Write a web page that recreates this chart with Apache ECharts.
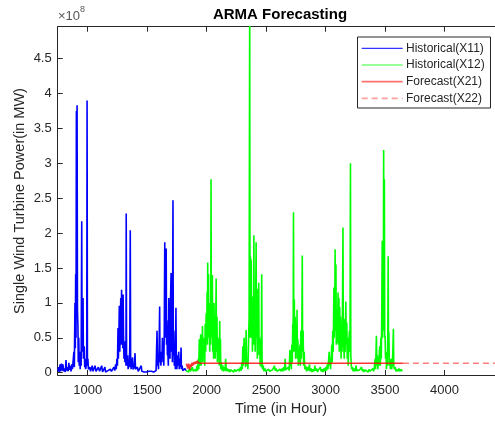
<!DOCTYPE html>
<html>
<head>
<meta charset="utf-8">
<script src="https://cdn.jsdelivr.net/npm/echarts@6/dist/echarts.min.js"></script>
<style>html,body{margin:0;padding:0;overflow:hidden;background:#fff}#c{width:495px;height:422px}</style>
</head>
<body>
<div id="c"></div>
<script>
// Values in units of 1e8 MW, time in hours
const x11 = [[750,0.02],[755,0.08],[760,0.01],[768,0.12],[772,0.02],[780,0.13],[785,0.03],[792,0.12],[798,0.02],[805,0.06],[812,0.01],[818,0.18],[822,0.03],[830,0.08],[836,0.02],[842,0.14],[848,0.04],[855,0.10],[860,0.02],[866,0.12],[872,0.05],[878,0.03],[884,0.30],[888,0.08],[893,1.00],[896,0.35],[899,1.41],[902,0.5],[905,3.75],[908,3.2],[911,3.83],[914,0.9],[918,0.67],[921,0.15],[925,0.5],[929,0.1],[933,0.3],[937,0.05],[941,0.25],[945,0.1],[950,2.17],[953,0.3],[957,0.9],[961,1.07],[964,0.2],[968,0.38],[972,0.35],[975,0.08],[979,0.2],[983,0.05],[988,0.03],[992,0.15],[995,3.90],[998,0.1],[1002,0.2],[1006,0.05],[1012,0.03],[1018,0.08],[1024,0.02],[1030,0.03],[1038,0.1],[1045,0.02],[1055,0.04],[1062,0.1],[1070,0.02],[1080,0.03],[1090,0.08],[1100,0.02],[1110,0.03],[1118,0.1],[1125,0.01],[1135,0.02],[1145,0.08],[1150,0.01],[1160,0.01],[1170,0.03],[1180,0.02],[1190,0.05],[1200,0.02],[1210,0.04],[1220,0.08],[1228,0.03],[1235,0.12],[1240,0.05],[1246,0.2],[1250,0.1],[1255,0.64],[1258,0.2],[1262,0.5],[1266,0.96],[1270,0.3],[1274,0.6],[1278,1.07],[1281,0.4],[1285,1.19],[1288,0.55],[1292,0.7],[1295,0.35],[1298,1.12],[1301,0.55],[1305,0.2],[1309,0.45],[1313,0.15],[1318,0.3],[1322,0.1],[1324,2.28],[1327,0.2],[1332,0.1],[1336,0.25],[1340,0.05],[1345,0.15],[1350,0.08],[1354,0.4],[1358,2.04],[1361,0.2],[1365,0.05],[1369,0.2],[1373,0.1],[1377,0.22],[1381,0.05],[1386,0.03],[1392,0.08],[1398,0.28],[1402,0.05],[1410,0.03],[1418,0.08],[1425,0.02],[1432,0.04],[1440,0.02],[1450,0.1],[1455,0.02],[1465,0.01],[1475,0.01],[1485,0.02],[1495,0.01],[1505,0.01],[1515,0.02],[1525,0.01],[1535,0.02],[1545,0.01],[1555,0.01],[1565,0.02],[1575,0.03],[1580,0.05],[1583,0.60],[1587,0.1],[1591,0.2],[1595,0.05],[1600,0.3],[1605,0.95],[1608,0.15],[1612,0.2],[1616,0.1],[1620,0.3],[1624,0.15],[1628,0.5],[1632,0.2],[1636,0.35],[1640,0.1],[1644,0.6],[1648,1.87],[1651,0.5],[1655,1.2],[1660,1.78],[1663,0.4],[1666,0.75],[1670,0.25],[1674,0.3],[1678,0.1],[1682,1.07],[1685,0.3],[1688,0.9],[1692,0.2],[1696,1.0],[1701,1.43],[1704,0.3],[1708,0.6],[1712,0.15],[1717,2.47],[1720,0.25],[1724,0.6],[1728,0.1],[1733,0.3],[1737,0.05],[1742,0.93],[1745,0.2],[1750,0.05],[1755,0.25],[1760,0.1],[1765,0.3],[1770,0.05],[1775,0.2],[1780,0.08],[1785,0.36],[1788,0.05],[1794,0.1],[1800,0.03],[1806,0.05],[1812,0.02],[1818,0.06],[1826,0.03]];

const x12 = [[1826,0.03],[1832,0.01],[1840,0.04],[1848,0.01],[1856,0.06],[1864,0.02],[1872,0.01],[1880,0.08],[1888,0.02],[1896,0.01],[1904,0.05],[1912,0.02],[1920,0.10],[1925,0.03],[1930,0.2],[1934,0.05],[1938,0.48],[1941,0.1],[1945,0.3],[1950,0.55],[1953,0.1],[1957,0.4],[1961,0.2],[1965,0.67],[1968,0.15],[1972,0.45],[1976,0.25],[1980,0.5],[1984,0.1],[1988,0.7],[1992,0.3],[1996,0.85],[2000,0.5],[2004,1.16],[2007,0.4],[2009,1.58],[2012,0.6],[2016,1.41],[2019,0.5],[2022,0.9],[2026,0.3],[2030,1.0],[2034,0.4],[2037,2.77],[2040,0.5],[2044,0.9],[2048,1.40],[2051,0.3],[2055,0.75],[2058,0.2],[2062,1.0],[2065,0.4],[2069,0.8],[2072,0.2],[2076,0.6],[2080,1.35],[2083,0.3],[2087,0.8],[2090,0.15],[2094,0.5],[2098,0.2],[2102,0.35],[2106,0.1],[2110,0.74],[2113,0.2],[2116,0.48],[2119,0.05],[2124,0.15],[2130,0.03],[2136,0.1],[2142,0.02],[2148,0.08],[2155,0.03],[2160,0.2],[2165,0.02],[2172,0.06],[2180,0.02],[2188,0.05],[2196,0.01],[2204,0.04],[2212,0.02],[2220,0.06],[2228,0.01],[2236,0.05],[2244,0.02],[2252,0.04],[2260,0.01],[2268,0.05],[2276,0.02],[2284,0.08],[2290,0.03],[2296,0.15],[2300,0.05],[2304,0.38],[2307,0.1],[2311,0.3],[2315,0.5],[2318,0.15],[2322,0.35],[2326,0.08],[2332,0.61],[2335,0.2],[2339,0.1],[2343,0.2],[2347,0.05],[2352,0.4],[2357,0.8],[2362,5.2],[2365,0.5],[2368,1.67],[2371,0.6],[2375,1.62],[2378,0.5],[2382,1.09],[2385,0.3],[2390,0.9],[2394,0.4],[2397,1.97],[2400,0.6],[2404,0.78],[2408,0.3],[2412,1.0],[2416,1.87],[2419,0.5],[2423,0.6],[2426,0.2],[2430,1.2],[2434,0.4],[2438,1.29],[2441,0.25],[2446,0.5],[2450,0.1],[2455,0.3],[2459,0.08],[2463,1.41],[2466,0.2],[2470,0.05],[2476,0.1],[2482,0.02],[2490,0.06],[2498,0.02],[2506,0.04],[2514,0.01],[2522,0.05],[2530,0.02],[2538,0.03],[2546,0.01],[2554,0.04],[2562,0.02],[2570,0.10],[2576,0.03],[2584,0.06],[2592,0.02],[2600,0.04],[2608,0.01],[2616,0.05],[2624,0.02],[2632,0.06],[2640,0.02],[2648,0.08],[2654,0.03],[2660,0.2],[2665,0.04],[2672,0.06],[2680,0.02],[2688,0.08],[2694,0.03],[2700,0.33],[2704,0.1],[2708,0.25],[2712,0.05],[2716,0.4],[2720,0.15],[2724,0.7],[2727,0.3],[2730,2.30],[2733,0.4],[2737,1.05],[2740,0.3],[2744,0.8],[2748,0.2],[2752,0.62],[2756,0.3],[2760,0.9],[2763,0.2],[2767,0.48],[2771,0.1],[2775,0.33],[2779,0.15],[2784,0.4],[2788,0.1],[2792,0.6],[2796,0.2],[2800,0.5],[2804,1.68],[2807,0.3],[2811,0.6],[2815,0.1],[2820,0.3],[2825,0.05],[2832,0.1],[2840,0.02],[2848,0.08],[2856,0.03],[2864,0.12],[2870,0.02],[2878,0.06],[2886,0.01],[2894,0.05],[2902,0.02],[2910,0.1],[2916,0.03],[2924,0.06],[2932,0.01],[2940,0.04],[2948,0.02],[2956,0.08],[2962,0.02],[2970,0.05],[2978,0.01],[2986,0.06],[2994,0.02],[3002,0.08],[3008,0.03],[3014,0.12],[3020,0.05],[3026,0.2],[3030,0.3],[3034,0.1],[3038,0.2],[3042,0.05],[3048,0.25],[3052,0.4],[3056,0.15],[3060,0.6],[3064,0.3],[3070,1.22],[3073,0.5],[3077,0.8],[3080,1.77],[3083,0.6],[3087,1.55],[3090,0.4],[3094,0.9],[3097,0.43],[3101,0.7],[3105,1.15],[3108,0.4],[3112,1.07],[3115,0.3],[3119,0.94],[3122,0.5],[3126,0.8],[3130,0.2],[3134,0.6],[3138,0.3],[3142,0.9],[3146,2.08],[3149,0.5],[3153,0.48],[3157,0.2],[3161,0.77],[3165,0.3],[3170,1.02],[3174,0.4],[3178,0.72],[3182,0.2],[3186,0.5],[3190,0.1],[3195,0.4],[3200,0.6],[3205,0.3],[3209,3.0],[3212,0.25],[3216,0.1],[3220,0.05],[3226,0.08],[3232,0.02],[3240,0.06],[3248,0.02],[3256,0.1],[3262,0.03],[3270,0.05],[3278,0.01],[3286,0.04],[3294,0.02],[3302,0.08],[3310,0.02],[3318,0.05],[3326,0.01],[3334,0.04],[3342,0.02],[3350,0.06],[3358,0.01],[3366,0.05],[3374,0.02],[3382,0.04],[3390,0.01],[3398,0.06],[3404,0.02],[3410,0.08],[3416,0.2],[3420,0.05],[3424,0.3],[3427,0.53],[3431,0.1],[3435,0.25],[3439,0.05],[3443,0.2],[3447,0.1],[3452,0.3],[3456,0.38],[3460,0.1],[3464,0.5],[3468,0.2],[3472,0.8],[3476,1.89],[3479,0.5],[3482,1.2],[3485,0.6],[3488,3.19],[3491,1.0],[3494,2.77],[3497,0.5],[3500,0.53],[3504,0.2],[3508,0.25],[3512,0.05],[3516,0.3],[3520,0.1],[3523,0.6],[3526,1.67],[3529,0.3],[3532,0.58],[3536,0.1],[3540,0.2],[3545,0.05],[3550,0.2],[3555,0.05],[3560,0.1],[3565,0.3],[3570,0.63],[3573,0.1],[3578,0.05],[3585,0.08],[3592,0.02],[3600,0.05],[3608,0.02],[3616,0.06],[3624,0.02],[3632,0.05],[3638,0.07],[3645,0.02]];

const x21 = [[1830,0.13],[1836,0.14],[1842,0.06],[1848,0.13],[1852,0.14],[1858,0.04],[1864,0.12],[1870,0.08],[1876,0.14],[1882,0.1],[1890,0.15],[1898,0.12],[1906,0.16],[1914,0.13],[1922,0.17],[1930,0.14],[1940,0.15],[1950,0.135],[3650,0.135]];
const x22 = [[3650,0.135],[4450,0.135]];

const xTicks = [1000,1500,2000,2500,3000,3500,4000];
const yTicks = [0,0.5,1,1.5,2,2.5,3,3.5,4,4.5];
const seriesNames = ['Historical(X11)','Historical(X12)','Forecast(X21)','Forecast(X22)'];

const FONT = '"Liberation Sans", Arial, Helvetica, sans-serif';
const AX = '#262626';
const legendColors = ['#3333ff','#33ff33','#ff7070','#ffa0a0'];
const chart = echarts.init(document.getElementById('c'), null, {renderer:'canvas'});
const baseX = {
  type:'value', min:748, max:4424,
  axisLine:{show:true, onZero:false, lineStyle:{color:AX, width:1}},
  splitLine:{show:false}
};

// legend drawn as graphic elements (box, sample lines, labels)
const legendGraphic = [{type:'rect', z:100, shape:{x:357.5, y:37, width:133, height:71}, style:{fill:'#fff', stroke:AX, lineWidth:1}}];
seriesNames.forEach((n,i)=>{
  const y = 48.3 + i*16.7;
  legendGraphic.push({type:'line', z:101, shape:{x1:361.7, y1:y, x2:402.7, y2:y},
    style:{stroke:legendColors[i], lineWidth:i>=2?1.8:1.2, lineDash:i===3?[6,4]:null}});
  legendGraphic.push({type:'text', z:101, x:406, y:y, style:{text:n, font:'12px '+FONT, fill:AX, align:'left', verticalAlign:'middle'}});
});

chart.setOption({
  animation:false,
  grid:{left:57.7, top:26.7, bottom:47, right:-10},
  xAxis:[
    Object.assign({}, baseX, {
      position:'bottom',
      axisTick:{show:true, inside:true, length:5, lineStyle:{color:AX}, customValues:xTicks},
      axisLabel:{show:true, customValues:xTicks, margin:9, color:AX, fontSize:13, fontFamily:FONT, formatter:v=>String(v)}
    }),
    Object.assign({}, baseX, {
      position:'top',
      axisTick:{show:true, inside:true, length:5, lineStyle:{color:AX}, customValues:xTicks},
      axisLabel:{show:false}
    })
  ],
  yAxis:{
    type:'value', min:-0.033, max:4.957,
    axisLine:{show:true, onZero:false, lineStyle:{color:AX, width:1}},
    axisTick:{show:true, inside:true, length:5, lineStyle:{color:AX}, customValues:yTicks},
    axisLabel:{show:true, customValues:yTicks, margin:6, color:AX, fontSize:13, fontFamily:FONT,
      formatter:v=>String(v)},
    splitLine:{show:false}
  },
  series:[
    {name:seriesNames[0], type:'line', data:x11, symbol:'none', lineStyle:{color:'#0000ff', width:1.6}},
    {name:seriesNames[1], type:'line', data:x12, symbol:'none', lineStyle:{color:'#00ff00', width:1.6}},
    {name:seriesNames[2], type:'line', data:x21, symbol:'none', lineStyle:{color:'rgba(255,0,0,0.8)', width:1.6}},
    {name:seriesNames[3], type:'line', data:x22, symbol:'none', lineStyle:{color:'rgba(255,0,0,0.5)', width:1.5, type:[6,4]}}
  ],
  graphic:[
    {type:'text', x:280, y:15, style:{text:'ARMA Forecasting', font:'bold 15px '+FONT, fill:'#000', align:'center', verticalAlign:'middle'}},
    {type:'text', x:281, y:409, style:{text:'Time (in Hour)', font:'14.5px '+FONT, fill:AX, align:'center', verticalAlign:'middle'}},
    {type:'text', x:20, y:201, rotation:Math.PI/2, style:{text:'Single Wind Turbine Power(in MW)', font:'14.5px '+FONT, fill:AX, align:'center', verticalAlign:'middle'}},
    {type:'text', x:58, y:23, style:{text:'{a|×10}{b|8}', align:'left', verticalAlign:'bottom',
      rich:{a:{font:'13px '+FONT, fill:'#555', verticalAlign:'bottom'}, b:{font:'9px '+FONT, fill:'#555', verticalAlign:'top', padding:[0,0,9,0]}}}}
  ].concat(legendGraphic)
});
</script>
</body>
</html>
